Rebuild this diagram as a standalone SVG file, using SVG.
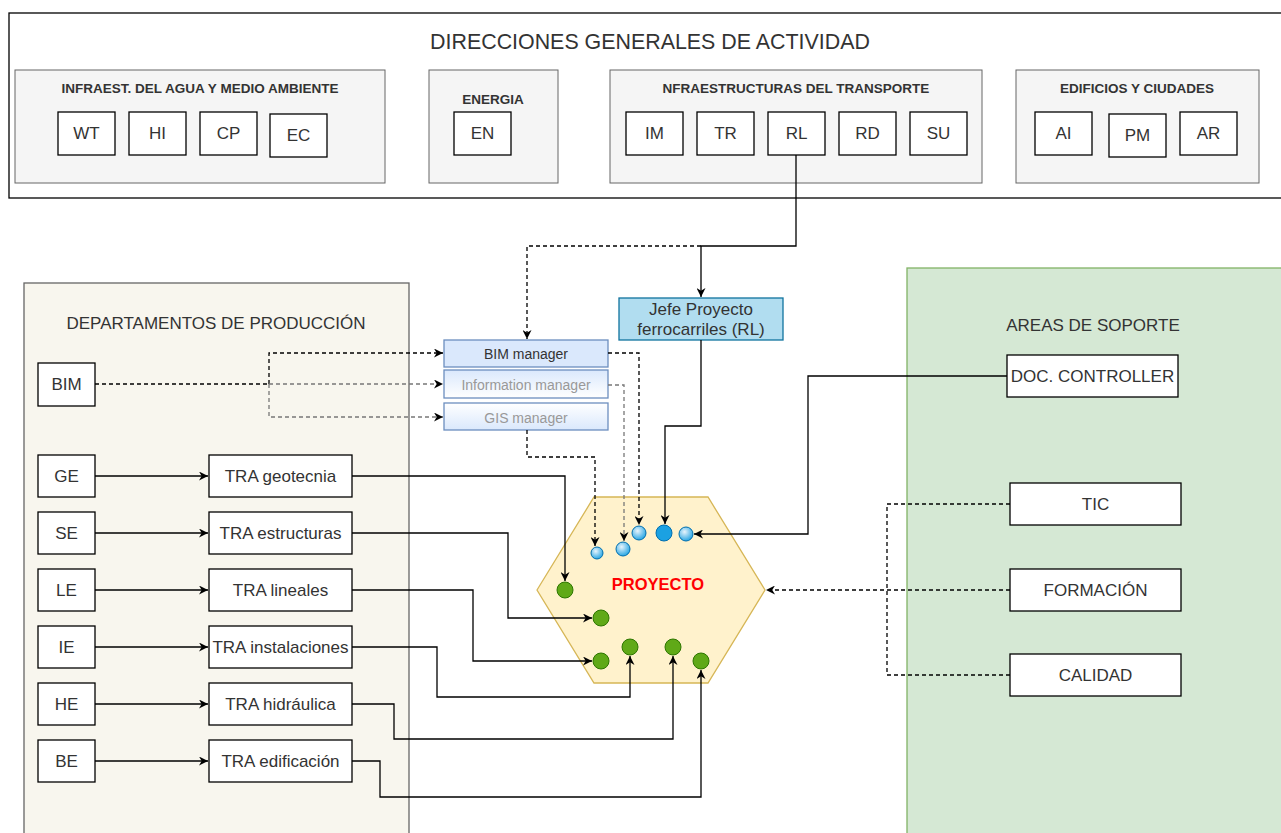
<svg xmlns="http://www.w3.org/2000/svg" width="1281" height="833" viewBox="0 0 1281 833">
<style>
text{font-family:"Liberation Sans",Arial,sans-serif;fill:#333;text-anchor:middle;dominant-baseline:central}
.grp{fill:#f5f5f5;stroke:#666;stroke-width:1}
.box{fill:#fff;stroke:#000;stroke-width:1.3}
.gl{font-size:13.5px;font-weight:bold}
.bt{font-size:17px}
.c{fill:none;stroke:#000;stroke-width:1.3}
.d{fill:none;stroke:#000;stroke-width:1.3;stroke-dasharray:4 3}
.dg{fill:none;stroke:#777;stroke-width:1.3;stroke-dasharray:4 3}
.bc{fill:url(#bl);stroke:#006eaf;stroke-width:1}
.gc{fill:#60a917;stroke:#2d7600;stroke-width:1}
.mgr{stroke:#6c8ebf;stroke-width:1.3}
</style>
<defs>
<marker id="a" viewBox="0 0 10 10" refX="10" refY="5" markerWidth="9" markerHeight="9" orient="auto" markerUnits="userSpaceOnUse"><path d="M0,0 L10,5 L0,10 L3,5 z" fill="#000"/></marker>
<marker id="ag" viewBox="0 0 10 10" refX="10" refY="5" markerWidth="9" markerHeight="9" orient="auto" markerUnits="userSpaceOnUse"><path d="M0,0 L10,5 L0,10 L3,5 z" fill="#000"/></marker>
<radialGradient id="bl" cx="0.4" cy="0.35" r="0.7"><stop offset="0" stop-color="#e8f4fc"/><stop offset="1" stop-color="#1ba1e2"/></radialGradient>
<linearGradient id="mg" x1="0" y1="0" x2="0" y2="1"><stop offset="0" stop-color="#dae8fc"/><stop offset="1" stop-color="#ffffff"/></linearGradient>
<linearGradient id="mg2" x1="0" y1="0" x2="0" y2="1"><stop offset="0" stop-color="#ffffff"/><stop offset="1" stop-color="#dae8fc"/></linearGradient>
</defs>

<g id="direcciones">
<rect x="9" y="13" width="1285" height="185" fill="#fff" stroke="#000" stroke-width="1.3"/>
<text x="650" y="42" font-size="21.4">DIRECCIONES GENERALES DE ACTIVIDAD</text>
</g>

<g id="agua">
<rect class="grp" x="15" y="70" width="370" height="113"/>
<text class="gl" x="200" y="88">INFRAEST. DEL AGUA Y MEDIO AMBIENTE</text>
</g>
<g id="WT"><rect class="box" x="58" y="112" width="57" height="43"/><text class="bt" x="86.5" y="133.5">WT</text></g>
<g id="HI"><rect class="box" x="129" y="112" width="57" height="43"/><text class="bt" x="157.5" y="133.5">HI</text></g>
<g id="CP"><rect class="box" x="200" y="112" width="57" height="43"/><text class="bt" x="228.5" y="133.5">CP</text></g>
<g id="EC"><rect class="box" x="270" y="114" width="57" height="43"/><text class="bt" x="298.5" y="135.5">EC</text></g>

<g id="energia">
<rect class="grp" x="429" y="70" width="129" height="113"/>
<text class="gl" x="493" y="99">ENERGIA</text>
</g>
<g id="EN"><rect class="box" x="454" y="112" width="57" height="43"/><text class="bt" x="482.5" y="133.5">EN</text></g>

<g id="transporte">
<rect class="grp" x="610" y="70" width="372" height="113"/>
<text class="gl" x="796" y="88">NFRAESTRUCTURAS DEL TRANSPORTE</text>
</g>
<g id="IM"><rect class="box" x="626" y="112" width="57" height="43"/><text class="bt" x="654.5" y="133.5">IM</text></g>
<g id="TR"><rect class="box" x="697" y="112" width="57" height="43"/><text class="bt" x="725.5" y="133.5">TR</text></g>
<g id="RL"><rect class="box" x="768" y="112" width="57" height="43"/><text class="bt" x="796.5" y="133.5">RL</text></g>
<g id="RD"><rect class="box" x="839" y="112" width="57" height="43"/><text class="bt" x="867.5" y="133.5">RD</text></g>
<g id="SU"><rect class="box" x="910" y="112" width="57" height="43"/><text class="bt" x="938.5" y="133.5">SU</text></g>

<g id="edificios">
<rect class="grp" x="1016" y="70" width="243" height="113"/>
<text class="gl" x="1137" y="88">EDIFICIOS Y CIUDADES</text>
</g>
<g id="AI"><rect class="box" x="1035" y="112" width="57" height="43"/><text class="bt" x="1063.5" y="133.5">AI</text></g>
<g id="PM"><rect class="box" x="1109" y="114" width="57" height="43"/><text class="bt" x="1137.5" y="135.5">PM</text></g>
<g id="AR"><rect class="box" x="1180" y="112" width="57" height="43"/><text class="bt" x="1208.5" y="133.5">AR</text></g>

<g id="departamentos">
<rect x="24" y="283" width="385" height="560" fill="#f8f6ee" stroke="#666" stroke-width="1.3"/>
<text x="216" y="323" font-size="17">DEPARTAMENTOS DE PRODUCCIÓN</text>
</g>
<g id="soporte">
<rect x="907" y="268" width="380" height="575" fill="#d5e8d4" stroke="#82b366" stroke-width="1.3"/>
<text x="1093" y="325" font-size="17">AREAS DE SOPORTE</text>
</g>

<g id="BIM"><rect class="box" x="38" y="363" width="57" height="43"/><text class="bt" x="66.5" y="384.5">BIM</text></g>
<g id="GE"><rect class="box" x="38" y="455" width="57" height="42"/><text class="bt" x="66.5" y="476">GE</text></g>
<g id="SE"><rect class="box" x="38" y="512" width="57" height="42"/><text class="bt" x="66.5" y="533">SE</text></g>
<g id="LE"><rect class="box" x="38" y="569" width="57" height="42"/><text class="bt" x="66.5" y="590">LE</text></g>
<g id="IE"><rect class="box" x="38" y="626" width="57" height="42"/><text class="bt" x="66.5" y="647">IE</text></g>
<g id="HE"><rect class="box" x="38" y="683" width="57" height="42"/><text class="bt" x="66.5" y="704">HE</text></g>
<g id="BE"><rect class="box" x="38" y="740" width="57" height="42"/><text class="bt" x="66.5" y="761">BE</text></g>

<g id="TRAgeo"><rect class="box" x="209" y="455" width="143" height="42"/><text class="bt" x="280.5" y="476">TRA geotecnia</text></g>
<g id="TRAest"><rect class="box" x="209" y="512" width="143" height="42"/><text class="bt" x="280.5" y="533">TRA estructuras</text></g>
<g id="TRAlin"><rect class="box" x="209" y="569" width="143" height="42"/><text class="bt" x="280.5" y="590">TRA lineales</text></g>
<g id="TRAins"><rect class="box" x="209" y="626" width="143" height="42"/><text class="bt" x="280.5" y="647">TRA instalaciones</text></g>
<g id="TRAhid"><rect class="box" x="209" y="683" width="143" height="42"/><text class="bt" x="280.5" y="704">TRA hidráulica</text></g>
<g id="TRAedi"><rect class="box" x="209" y="740" width="143" height="42"/><text class="bt" x="280.5" y="761">TRA edificación</text></g>

<g id="jefe"><rect x="619" y="298" width="164" height="42" fill="#b1ddf0" stroke="#10739e" stroke-width="1.3"/>
<text x="701" y="309" font-size="17">Jefe Proyecto</text><text x="701" y="329" font-size="17">ferrocarriles (RL)</text></g>

<g id="bimmanager"><rect class="mgr" x="444" y="340" width="164" height="27" fill="#dae8fc"/><text x="526" y="354" font-size="14">BIM manager</text></g>
<g id="infomanager"><rect class="mgr" x="444" y="370" width="164" height="28" fill="url(#mg)"/><text x="526" y="385" font-size="14" style="fill:#999">Information manager</text></g>
<g id="gismanager"><rect class="mgr" x="444" y="403" width="164" height="27" fill="url(#mg2)"/><text x="526" y="418" font-size="14" style="fill:#999">GIS manager</text></g>

<g id="doc"><rect class="box" x="1007" y="355" width="171" height="42"/><text class="bt" x="1092.5" y="376">DOC. CONTROLLER</text></g>
<g id="tic"><rect class="box" x="1010" y="483" width="171" height="42"/><text class="bt" x="1095.5" y="504">TIC</text></g>
<g id="formacion"><rect class="box" x="1010" y="569" width="171" height="42"/><text class="bt" x="1095.5" y="590">FORMACIÓN</text></g>
<g id="calidad"><rect class="box" x="1010" y="654" width="171" height="42"/><text class="bt" x="1095.5" y="675">CALIDAD</text></g>

<g id="proyecto">
<polygon points="537,590 594,497 708,497 765,590 708,683 594,683" fill="#fff2cc" stroke="#d6b656" stroke-width="1.3"/>
<text x="658" y="584" font-size="16.5" font-weight="bold" style="fill:#ff0000">PROYECTO</text>
<circle class="bc" cx="597" cy="553" r="6"/>
<circle class="bc" cx="623" cy="549" r="7"/>
<circle class="bc" cx="639" cy="533" r="7"/>
<circle cx="664" cy="533" r="8" fill="#1ba1e2" stroke="#006eaf" stroke-width="1"/>
<circle class="bc" cx="686" cy="534" r="7"/>
<circle class="gc" cx="565" cy="590" r="8"/>
<circle class="gc" cx="601" cy="618" r="8"/>
<circle class="gc" cx="601" cy="661" r="8"/>
<circle class="gc" cx="630" cy="647" r="8"/>
<circle class="gc" cx="673" cy="647" r="8"/>
<circle class="gc" cx="701" cy="661" r="8"/>
</g>

<g id="connectors">
<path class="c" d="M796,155 V246 H701 V297" marker-end="url(#a)"/>
<path class="d" d="M701,246 H527 V339" marker-end="url(#a)"/>
<path class="c" d="M701,340 V426 H665 V524" marker-end="url(#a)"/>
<path class="d" d="M608,353 H639 V525" marker-end="url(#a)"/>
<path class="dg" d="M608,385 H624 V541" marker-end="url(#ag)"/>
<path class="d" d="M527,430 V457 H595 V546" marker-end="url(#a)"/>
<path class="d" d="M95,384 H269" stroke-width="2.2"/>
<path class="d" d="M269,384 V353 H443" marker-end="url(#a)"/>
<path class="dg" d="M269,384 H443" marker-end="url(#ag)"/>
<path class="dg" d="M269,384 V417 H443" marker-end="url(#ag)"/>
<path class="c" d="M95,476 H208" marker-end="url(#a)"/>
<path class="c" d="M95,533 H208" marker-end="url(#a)"/>
<path class="c" d="M95,590 H208" marker-end="url(#a)"/>
<path class="c" d="M95,647 H208" marker-end="url(#a)"/>
<path class="c" d="M95,704 H208" marker-end="url(#a)"/>
<path class="c" d="M95,761 H208" marker-end="url(#a)"/>
<path class="c" d="M352,476 H565 V581" marker-end="url(#a)"/>
<path class="c" d="M352,533 H508 V618 H592" marker-end="url(#a)"/>
<path class="c" d="M352,590 H473 V661 H592" marker-end="url(#a)"/>
<path class="c" d="M352,647 H437 V697 H630 V656" marker-end="url(#a)"/>
<path class="c" d="M352,704 H394 V739 H673 V656" marker-end="url(#a)"/>
<path class="c" d="M352,761 H380 V797 H701 V670" marker-end="url(#a)"/>
<path class="c" d="M1007,376 H808 V534 H694" marker-end="url(#a)"/>
<path class="d" d="M1010,504 H887 V675 H1010"/>
<path class="d" d="M1010,590 H766" marker-end="url(#a)"/>
</g>
</svg>
